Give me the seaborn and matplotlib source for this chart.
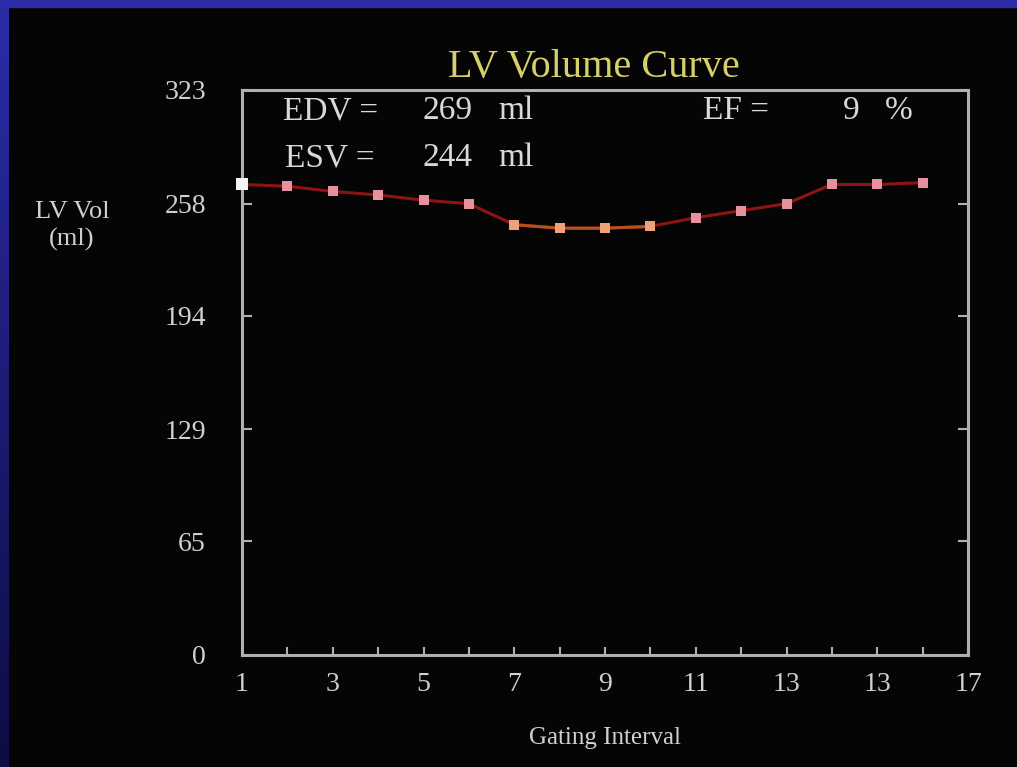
import numpy as np
import pandas as pd
import seaborn as sns
import matplotlib.pyplot as plt
from matplotlib.patches import Rectangle
from matplotlib.colors import LinearSegmentedColormap

# values
gating_interval = list(range(1, 17))
lv_volume = [269, 268, 265, 263, 260, 258, 246, 244, 244, 245, 250, 254, 258, 269, 269, 270]
y_ticks = [0, 65, 129, 194, 258, 323]
x_ticks = [1, 3, 5, 7, 9, 11, 13, 15, 17]
x_tick_labels = ["1", "3", "5", "7", "9", "11", "13", "13", "17"]
edv, esv, ef = 269, 244, 9

df = pd.DataFrame({"interval": gating_interval, "volume": lv_volume})

sns.set_style("dark")
plt.rcParams["font.family"] = ["Liberation Serif", "DejaVu Serif"]

fig = plt.figure(figsize=(10.17, 7.67), dpi=100, facecolor="#050505")
ax = fig.add_axes([242 / 1017, 112 / 767, 726 / 1017, 565 / 767])
ax.set_facecolor("#050505")

# blue frame on top and left
edge = fig.add_axes([0, 0, 9 / 1017, 1])
cmap = LinearSegmentedColormap.from_list("edge", ["#0d0d45", "#2c2ca8"])
edge.imshow(np.linspace(0, 1, 100).reshape(-1, 1), aspect="auto", cmap=cmap, origin="lower")
edge.axis("off")
fig.patches.append(Rectangle((0, 1 - 7 / 767), 1, 7 / 767, transform=fig.transFigure,
                             color="#2c2ca8", zorder=5))

# the volume curve
sns.lineplot(data=df, x="interval", y="volume", ax=ax, color="#8e1414", linewidth=2.2,
             marker="s", markersize=6.5, markerfacecolor="#e8919e", markeredgewidth=0)
mid = df[(df["interval"] >= 7) & (df["interval"] <= 10)]
sns.lineplot(data=mid, x="interval", y="volume", ax=ax, color="#b5521c", linewidth=2.2,
             marker="s", markersize=6.5, markerfacecolor="#eea27a", markeredgewidth=0)
sns.scatterplot(data=df.iloc[:1], x="interval", y="volume", ax=ax, color="#f2f2f2",
                marker="s", s=70, linewidth=0, zorder=5, clip_on=False)

ax.set_xlim(1, 17)
ax.set_ylim(0, 323)
ax.set_xticks(x_ticks)
ax.set_xticklabels(x_tick_labels)
ax.set_xticks(range(1, 18), minor=True)
ax.set_yticks(y_ticks)
ax.grid(False)

grey = "#b0b0b0"
for s in ax.spines.values():
    s.set_visible(True)
    s.set_color(grey)
    s.set_linewidth(2.2)
ax.tick_params(axis="x", which="both", direction="in", length=6, width=1.5, color=grey,
               bottom=True, labelcolor="#d0d0d0", labelsize=20, pad=12)
ax.tick_params(axis="y", direction="in", length=7, width=1.5, color=grey, left=True, right=True,
               labelcolor="#d0d0d0", labelsize=20, pad=26)

ax.set_xlabel("Gating Interval", color="#d0d0d0", fontsize=18)
ax.xaxis.set_label_coords(0.5, -0.127)
ax.set_ylabel("LV Vol\n(ml)", color="#d0d0d0", fontsize=19, rotation=0,
              ha="center", va="center", linespacing=1.3)
ax.yaxis.set_label_coords(-0.234, 0.759)

ax.text(0.485, 1.04, "LV Volume Curve", transform=ax.transAxes, ha="center", va="center",
        color="#d6cf6a", fontsize=29)

txt = dict(color="#d8d8d8", fontsize=24, va="center", ha="left")
ax.text(1.9, 311, "EDV =", **txt)
ax.text(4.97, 311, str(edv), **txt)
ax.text(6.64, 311, "ml", **txt)
ax.text(1.95, 284, "ESV =", **txt)
ax.text(4.97, 284, str(esv), **txt)
ax.text(6.64, 284, "ml", **txt)
ax.text(11.16, 311, "EF =", **txt)
ax.text(14.25, 311, str(ef), **txt)
ax.text(15.17, 311, "%", **txt)

plt.savefig("out.png", dpi=100, facecolor=fig.get_facecolor())
